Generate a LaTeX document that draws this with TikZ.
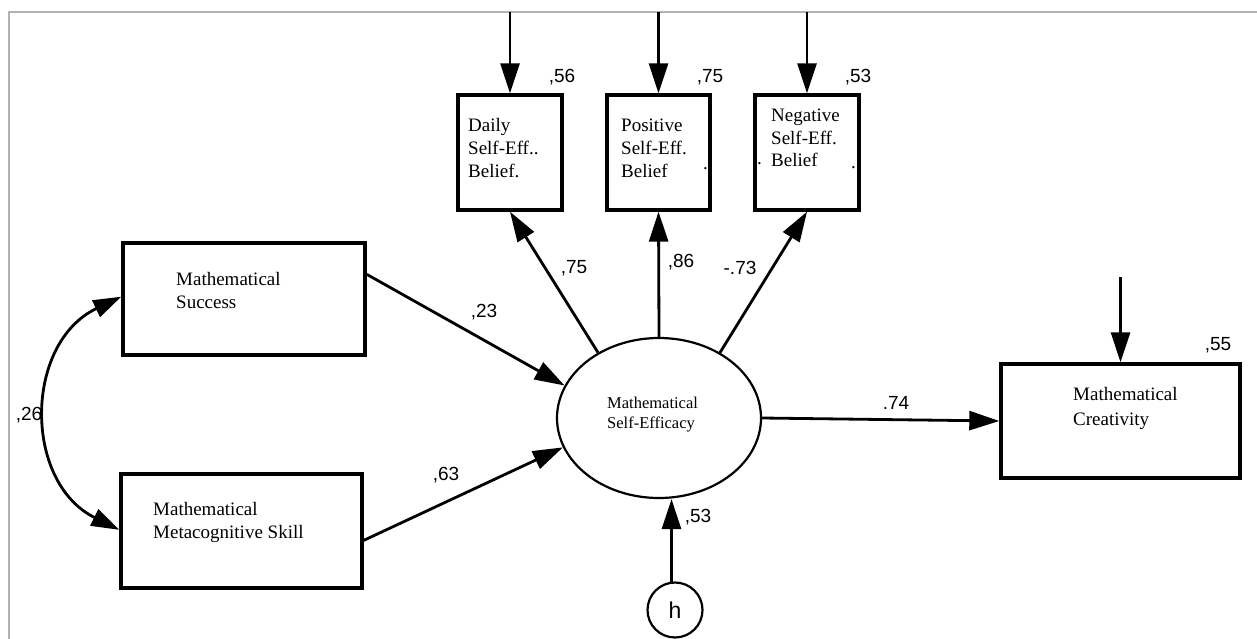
\documentclass[tikz,border=0pt]{standalone}
\usepackage{fontspec}
\setmainfont{Liberation Serif}
\newfontfamily\boxfont{Liberation Serif}
\newfontfamily\numfont{Liberation Sans}
\usetikzlibrary{arrows.meta,shapes.geometric,calc}
\begin{document}
\begin{tikzpicture}[x=1pt,y=-1pt,
  box/.style={draw, line width=3.4, inner sep=0},
  btext/.style={font=\boxfont\fontsize{19}{21}\selectfont, anchor=base west, inner sep=0},
  etext/.style={font=\boxfont\fontsize{16.5}{18}\selectfont, anchor=base west, inner sep=0},
  num/.style={font=\numfont\fontsize{19}{21}\selectfont, inner sep=0},
  conn/.style={line width=2.8, -{Triangle[length=30pt,width=19pt]}},
  conntwo/.style={line width=2.8, {Triangle[length=28pt,width=18pt]}-{Triangle[length=28pt,width=18pt]}}]
\useasboundingbox (0,0) rectangle (1257,639);
\draw[black!30, line width=2] (8.5,639) -- (8.5,12.5) -- (1257,12.5);
% boxes
\node[box, minimum width=242, minimum height=112] (succ) at (244,299) {};
\node[box, minimum width=241, minimum height=114] (meta) at (241.5,531) {};
\node[box, minimum width=104, minimum height=115] (daily) at (510,152.5) {};
\node[box, minimum width=103, minimum height=115] (pos) at (658.5,152.5) {};
\node[box, minimum width=104, minimum height=115] (neg) at (807,152.5) {};
\node[box, minimum width=239, minimum height=114] (creat) at (1120.5,421) {};
\node[ellipse, draw, line width=2.2, minimum width=204, minimum height=160, inner sep=0] (ell) at (659,418) {};
\node[circle, draw, line width=2.2, minimum size=55, inner sep=0, font=\numfont\fontsize{23}{24}\selectfont] (h) at (675,610) {h};
% texts
\node[btext] (s1) at (176,285) {Mathematical};
\node[btext] (s2) at (176,308) {Success};
\node[btext] (m1) at (153,515) {Mathematical};
\node[btext] (m2) at (153,538) {Metacognitive Skill};
\node[btext] (c1) at (1073,400) {Mathematical};
\node[btext] (c2) at (1073,425) {Creativity};
\node[btext] (d1) at (468,132) {Daily};
\node[btext] (d2) at (468,155) {Self-Eff..};
\node[btext] (d3) at (468,178) {Belief.};
\node[btext] (p1) at (621,132) {Positive};
\node[btext] (p2) at (621,155) {Self-Eff.};
\node[btext] (p3) at (621,178) {Belief};
\node[btext] (p4) at (703,170) {.};
\node[btext] (n1) at (771,122) {Negative};
\node[btext] (n2) at (771,145) {Self-Eff.};
\node[btext] (n3) at (771,167) {Belief};
\node[btext] (n4) at (757,165) {.};
\node[btext] (n5) at (851,169) {.};
\node[etext] (e1) at (607,408) {Mathematical};
\node[etext] (e2) at (607,428) {Self-Efficacy};
% numbers
\node[num] (l56) at (562,77) {,56};
\node[num] (l75a) at (710,77) {,75};
\node[num] (l53a) at (858,77) {,53};
\node[num] (l26) at (29,415) {,26};
\node[num] (l23) at (484,312) {,23};
\node[num] (l63) at (446,475) {,63};
\node[num] (l75) at (574,268) {,75};
\node[num] (l86) at (681,262) {,86};
\node[num] (l73) at (740,268) {-.73};
\node[num] (l74) at (896,403) {.74};
\node[num] (l55) at (1218,345) {,55};
\node[num] (l53) at (698,517) {,53};
% connectors
\coordinate (dtop) at (510,12);
\coordinate (ptop) at (658.5,12);
\coordinate (ntop) at (807,12);
\coordinate (ctop) at (1120.5,277);
\draw[conn] (dtop) -- (daily.north);
\draw[conn] (ptop) -- (pos.north);
\draw[conn] (ntop) -- (neg.north);
\draw[conn] (ctop) -- (creat.north);
\draw[conn] ($(succ.north east)!0.286!(succ.south east)$) -- (ell.161);
\draw[conn] ($(meta.north east)!0.58!(meta.south east)$) -- (ell.197);
\draw[conn] (ell.133) -- (daily.south);
\draw[conn] (ell.north) -- (pos.south);
\draw[conn] (ell.47) -- (neg.south);
\draw[conn] (ell.east) -- (creat.west);
\draw[conn] (h.97) -- (h.97 |- ell.south);
\draw[conntwo] ($(succ.north west)!0.48!(succ.south west)$) .. controls (24,343) and (23,482) .. ($(meta.north west)!0.49!(meta.south west)$);
\end{tikzpicture}
\end{document}
